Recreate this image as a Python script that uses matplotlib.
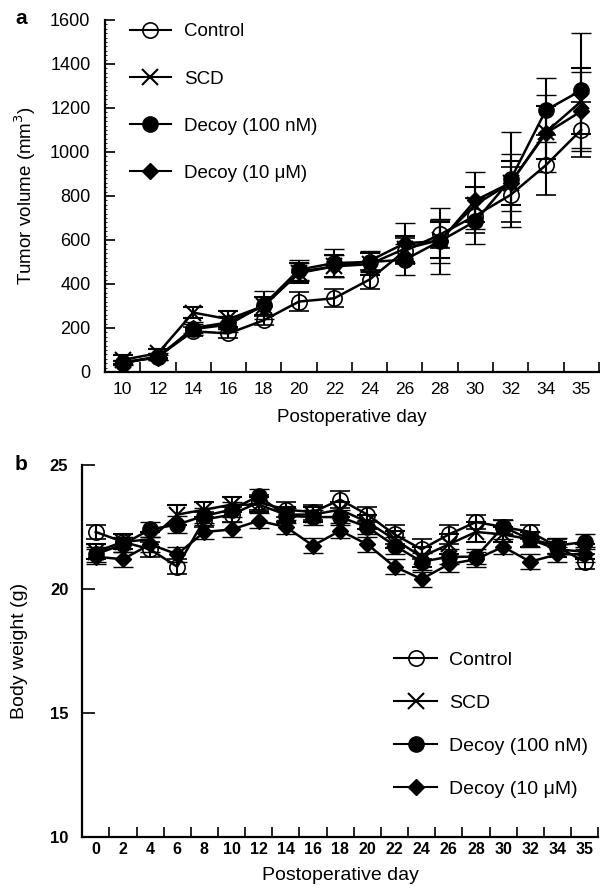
import matplotlib
matplotlib.use("Agg")
import matplotlib.pyplot as plt
import numpy as np
from matplotlib.lines import Line2D
from matplotlib.ticker import MultipleLocator

plt.rcParams["font.family"] = ["Liberation Sans", "DejaVu Sans"]

# ---- panel a: tumor volume ----
days_a = ["10", "12", "14", "16", "18", "20", "22", "24", "26", "28", "30", "32", "34", "35"]
control_a = [40, 70, 185, 175, 235, 320, 335, 420, 550, 625, 710, 805, 940, 1100]
scd_a = [55, 85, 270, 240, 300, 450, 480, 490, 560, 600, 760, 860, 1090, 1230]
decoy100_a = [40, 70, 195, 215, 305, 465, 495, 500, 510, 595, 685, 875, 1190, 1280]
decoy10_a = [45, 65, 200, 225, 300, 455, 480, 505, 585, 595, 780, 860, 1085, 1185]
control_err_a = [10, 10, 20, 20, 20, 45, 40, 45, 60, 60, 80, 125, 135, 125]
scd_err_a = [20, 20, 25, 35, 40, 45, 50, 50, 60, 80, 80, 100, 120, 150]
decoy100_err_a = [10, 15, 25, 35, 65, 45, 65, 45, 70, 150, 105, 215, 145, 260]
decoy10_err_a = [10, 10, 25, 30, 40, 40, 50, 45, 90, 100, 130, 130, 175, 180]

# ---- panel b: body weight ----
days_b = ["0", "2", "4", "6", "8", "10", "12", "14", "16", "18", "20", "22", "24", "26",
          "28", "30", "32", "34", "35"]
control_b = [22.3, 21.9, 21.6, 20.9, 22.8, 23.0, 23.5, 23.2, 23.1, 23.6, 23.0, 22.2, 21.6,
             22.2, 22.7, 22.5, 22.3, 21.7, 21.1]
scd_b = [21.5, 21.9, 22.0, 23.0, 23.2, 23.4, 23.4, 23.0, 23.0, 23.2, 22.7, 22.0, 21.3,
         21.8, 22.3, 22.2, 22.0, 21.6, 21.5]
decoy100_b = [21.4, 21.8, 22.4, 22.6, 22.95, 23.2, 23.75, 22.95, 22.9, 22.9, 22.5, 21.75,
              21.1, 21.3, 21.3, 22.5, 22.0, 21.75, 21.9]
decoy10_b = [21.3, 21.2, 21.8, 21.4, 22.3, 22.4, 22.75, 22.5, 21.75, 22.35, 21.8, 20.9,
             20.4, 21.0, 21.2, 21.7, 21.1, 21.4, 21.4]
control_err_b = [0.3, 0.3, 0.3, 0.3, 0.3, 0.3, 0.3, 0.3, 0.3, 0.35, 0.3, 0.4, 0.4, 0.4, 0.3, 0.3, 0.3, 0.3, 0.3]
scd_err_b = [0.3, 0.3, 0.3, 0.4, 0.3, 0.3, 0.3, 0.3, 0.3, 0.3, 0.3, 0.35, 0.4, 0.4, 0.4, 0.3, 0.3, 0.3, 0.3]
decoy100_err_b = [0.3, 0.3, 0.3, 0.35, 0.3, 0.3, 0.3, 0.3, 0.3, 0.3, 0.3, 0.35, 0.35, 0.3, 0.3, 0.3, 0.3, 0.3, 0.3]
decoy10_err_b = [0.3, 0.3, 0.3, 0.3, 0.3, 0.3, 0.3, 0.3, 0.3, 0.3, 0.3, 0.3, 0.3, 0.3, 0.3, 0.3, 0.3, 0.3, 0.3]

labels = ["Control", "SCD", "Decoy (100 nM)", "Decoy (10 \u03bcM)"]
styles = [
    dict(marker="o", ms=11, mfc="none", mew=1.2),
    dict(marker="x", ms=11, mfc="k", mew=1.5),
    dict(marker="o", ms=11, mfc="k", mew=1.0),
    dict(marker="D", ms=8, mfc="k", mew=1.0),
]


def draw(ax, y, err, style, label):
    x = np.arange(len(y))
    ax.errorbar(x, y, yerr=err, color="k", mec="k", lw=1.8, elinewidth=1.5,
                capsize=7, capthick=1.5, label=label, clip_on=False, **style)


def legend_handles():
    return [Line2D([0], [0], color="k", lw=1.5, **s) for s in styles]


def style_x(ax, names, fs, weight, pad):
    n = len(names)
    ax.set_xlim(-0.5, n - 0.5)
    ax.set_xticks(np.arange(n))
    ax.set_xticklabels(names, fontsize=fs, fontweight=weight)
    ax.set_xticks(np.arange(n) + 0.5, minor=True)
    ax.tick_params(axis="x", which="major", length=0, pad=pad)
    ax.tick_params(axis="x", which="minor", direction="in", length=7, width=1.2)


fig = plt.figure(figsize=(6, 8.92), dpi=100)

# panel a
ax1 = fig.add_axes([0.175, 0.583, 0.823, 0.3946])
for y, e, s, lab in zip([control_a, scd_a, decoy100_a, decoy10_a],
                        [control_err_a, scd_err_a, decoy100_err_a, decoy10_err_a],
                        styles, labels):
    draw(ax1, y, e, s, lab)
ax1.set_ylim(0, 1600)
ax1.set_yticks(range(0, 1601, 200))
ax1.yaxis.set_minor_locator(MultipleLocator(20))
ax1.tick_params(axis="y", which="major", direction="in", length=7, width=1.2, pad=10.5, labelsize=13)
ax1.tick_params(axis="y", which="minor", direction="in", length=1.5, width=0.6)
style_x(ax1, days_a, 12.5, "normal", 7)
ax1.set_ylabel("Tumor volume (mm$^3$)", fontsize=13.5)
ax1.yaxis.set_label_coords(-0.135, 0.5)
ax1.set_xlabel("Postoperative day", fontsize=13.5)
ax1.xaxis.set_label_coords(0.5, -0.105)
ax1.legend(handles=legend_handles(), labels=labels, loc="upper left",
           bbox_to_anchor=(0.031, 1.017), frameon=False, fontsize=13.5,
           handlelength=2.2, handletextpad=0.7, labelspacing=1.6, borderpad=0)

# panel b
ax2 = fig.add_axes([0.137, 0.0617, 0.86, 0.417])
for y, e, s, lab in zip([control_b, scd_b, decoy100_b, decoy10_b],
                        [control_err_b, scd_err_b, decoy100_err_b, decoy10_err_b],
                        styles, labels):
    draw(ax2, y, e, s, lab)
ax2.set_ylim(10, 25)
ax2.set_yticks([10, 15, 20, 25])
ax2.tick_params(axis="y", direction="in", length=9, width=1.2, pad=10)
for t in ax2.get_yticklabels():
    t.set_fontsize(12)
    t.set_fontweight("bold")
style_x(ax2, days_b, 11.5, "bold", 3.5)
ax2.set_ylabel("Body weight (g)", fontsize=14)
ax2.yaxis.set_label_coords(-0.105, 0.5)
ax2.set_xlabel("Postoperative day", fontsize=14)
ax2.xaxis.set_label_coords(0.5, -0.08)
ax2.legend(handles=legend_handles(), labels=labels, loc="upper left",
           bbox_to_anchor=(0.586, 0.525), frameon=False, fontsize=14,
           handlelength=2.2, handletextpad=0.6, labelspacing=1.3, borderpad=0)

for ax in (ax1, ax2):
    ax.spines["top"].set_visible(False)
    ax.spines["right"].set_visible(False)
    ax.spines["left"].set_linewidth(1.6)
    ax.spines["bottom"].set_linewidth(1.6)

fig.text(0.025, 0.99, "a", fontsize=15, fontweight="bold", va="top")
fig.text(0.025, 0.49, "b", fontsize=15, fontweight="bold", va="top")

fig.savefig("out.png", dpi=100, facecolor="white")
